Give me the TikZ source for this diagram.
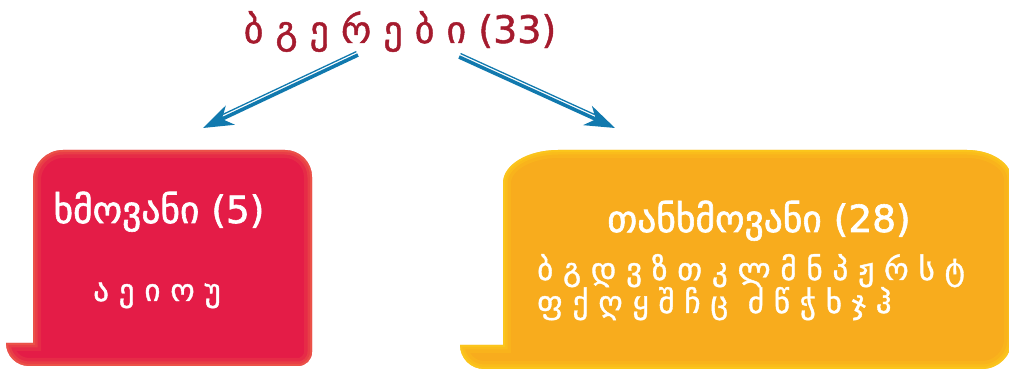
\documentclass[tikz,border=0pt]{standalone}
\usepackage{fontspec}
\setmainfont{DejaVu Sans}
\newfontfamily\geobold[FakeBold=1.6]{DejaVu Sans}
\newfontfamily\geomed[FakeBold=1.2]{DejaVu Sans}
\usetikzlibrary{arrows.meta,calc}
\definecolor{titlered}{HTML}{A51B2E}
\definecolor{boxred}{HTML}{E41C47}
\definecolor{glowred}{HTML}{EF6A4A}
\definecolor{boxorange}{HTML}{F8AC1D}
\definecolor{gloworange}{HTML}{FDD21B}
\definecolor{arrowblue}{HTML}{1179AE}
\tikzset{
  headtext/.style={text=white, font=\geobold\fontsize{37.5}{40}\selectfont, inner sep=0pt},
  lettertext/.style={text=white, font=\geomed\fontsize{31}{34}\selectfont, inner sep=0pt},
  titletext/.style={text=titlered, font=\geomed\fontsize{38}{42}\selectfont, inner sep=0pt},
  thickarrow/.style={draw=arrowblue, line width=3.6pt, -{Stealth[length=30pt,width=21pt,inset=9pt]}},
  thinline/.style={draw=arrowblue, line width=1.3pt},
}
\begin{document}
\begin{tikzpicture}[x=1pt,y=1pt]
\useasboundingbox (0,0) rectangle (1009,369);
\clip (0,0) rectangle (1009,369);
% left red box
\def\leftbox{(6,26) -- (33,26) -- (33,189) arc[start angle=180,end angle=90,radius=30] -- (285,219) arc[start angle=90,end angle=0,radius=27] -- (312,17) arc[start angle=0,end angle=-90,radius=14] -- (29,3) arc[start angle=270,end angle=180,radius=23] -- cycle}
\fill[boxred] \leftbox;
\begin{scope}
\clip \leftbox;
\draw[glowred, line width=16pt, opacity=0.2] \leftbox;
\draw[glowred, line width=9pt, opacity=0.3] \leftbox;
\draw[glowred, line width=4pt, opacity=0.45] \leftbox;
\end{scope}
% right orange box
\def\rightbox{(461,24) -- (503,24) -- (503,186) arc[start angle=180,end angle=90,x radius=55,y radius=33] -- (967,219) arc[start angle=90,end angle=0,x radius=45,y radius=30] -- (1012,30) arc[start angle=0,end angle=-90,radius=30] -- (484,0) arc[start angle=270,end angle=180,radius=24] -- cycle}
\fill[boxorange] \rightbox;
\begin{scope}
\clip \rightbox;
\draw[gloworange, line width=16pt, opacity=0.2] \rightbox;
\draw[gloworange, line width=9pt, opacity=0.3] \rightbox;
\draw[gloworange, line width=4pt, opacity=0.45] \rightbox;
\end{scope}
% texts
\node[titletext, anchor=base] (title) at (400,326) {ბ გ ე რ ე ბ ი (33)};
\node[headtext, anchor=base] (vhead) at (159,146) {ხმოვანი (5)};
\node[lettertext, anchor=base] (vowels) at (157,68) {ა ე ი ო უ};
\node[headtext, anchor=base] (chead) at (759,137) {თანხმოვანი (28)};
\node[lettertext, anchor=base west] (crow1) at (537,89) {ბ გ დ ვ ზ თ კ ლ მ ნ პ ჟ რ ს ტ};
\node[lettertext, anchor=base west] (crow2) at (537,56) {ფ ქ ღ ყ შ ჩ ც\ \ ძ წ ჭ ხ ჯ ჰ};
% arrows
\coordinate (ls) at (358,314);
\coordinate (le) at (203,241);
\coordinate (rs) at (459,312);
\coordinate (re) at (615,241);
\coordinate (lm) at ($(le)!24pt!(ls)$);
\coordinate (rm) at ($(re)!24pt!(rs)$);
\draw[thickarrow] (ls) -- (le);
\draw[thickarrow] (rs) -- (re);
\draw[thinline] ($(ls)!3.8pt!-90:(le)$) -- ($(lm)!3.8pt!90:(ls)$);
\draw[thinline] ($(rs)!3.8pt!90:(re)$) -- ($(rm)!3.8pt!-90:(rs)$);
\end{tikzpicture}
\end{document}
